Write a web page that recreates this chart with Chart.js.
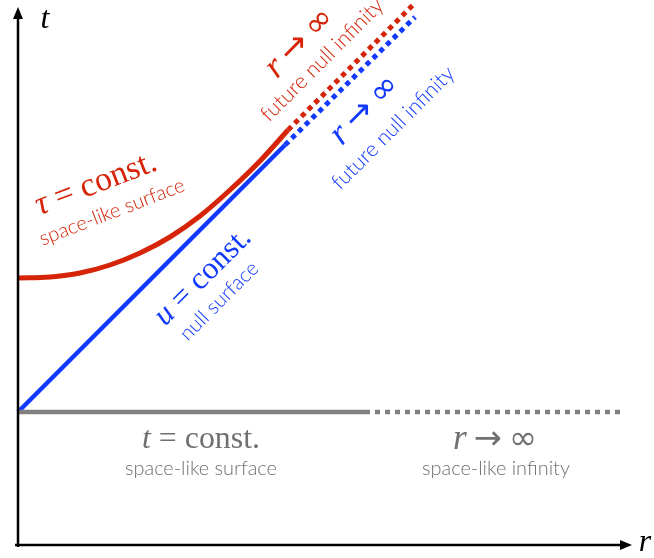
<!DOCTYPE html>
<html>
<head>
<meta charset="utf-8">
<script src="https://cdn.jsdelivr.net/npm/chart.js@4.4.1/dist/chart.umd.min.js"></script>
<style>
html,body{margin:0;padding:0;background:#fff;}
#wrap{width:654px;height:558px;}
</style>
</head>
<body>
<div id="wrap"><canvas id="c" width="654" height="558"></canvas></div>
<script>
// ---- data (r, t in diagram units) ----
const grayR = [0, 347];
const grayT = [133, 133];
const grayDotR = [347, 607];
const grayDotT = [133, 133];

const blueR = [0, 267];
const blueT = [133, 400];
const blueDotR = [267, 397];
const blueDotT = [400, 528];

const redR = [0, 32, 62, 92, 122, 152, 182, 212, 242, 270];
const redT = [267, 268, 272, 280, 292, 308, 329, 355, 384, 415];
const redDotR = [270, 397];
const redDotT = [415, 542];

const RED = 'rgb(214,36,8)';
const BLUE = 'rgb(18,58,255)';
const GRAY = 'rgb(128,128,128)';
const GRAYTXT = 'rgb(112,112,112)';

function pts(xs, ys){ return xs.map((x,i)=>({x:x, y:ys[i]})); }

const SERIF = '"Liberation Serif", "DejaVu Serif", serif';
const SANS = 'Lato, "Open Sans", sans-serif';
const ARROWF = '"DejaVu Sans", sans-serif';

// segment: [text, italic, fontOverride, sizeFactor]
const CONST = v => [[v,1],[' = ',0],['const.',0]];
const TOINF = [['r',1],['\u2009',0],['→',0,ARROWF,0.95],['\u2009',0],['∞',0,ARROWF,0.95]];

const labels = [
  {segs:CONST('τ'), font:SERIF, tw:128, x:78, y:361, a:-21, c:RED},
  {segs:[['space-like surface',0]], font:SANS, w:300, tw:154, x:94, y:333, a:-21, c:RED},
  {segs:CONST('u'), font:SERIF, tw:124, x:185, y:268, a:-45, c:BLUE},
  {segs:[['null surface',0]], font:SANS, w:300, tw:102, x:201, y:244, a:-45, c:BLUE},
  {segs:TOINF, font:SERIF, tw:84, x:282, y:502, a:-45, c:RED},
  {segs:[['future null infinity',0]], font:SANS, w:300, tw:164, x:304, y:485, a:-45, c:RED},
  {segs:TOINF, font:SERIF, tw:84, x:347, y:435, a:-45, c:BLUE},
  {segs:[['future null infinity',0]], font:SANS, w:300, tw:164, x:375, y:417, a:-45, c:BLUE},
  {segs:CONST('t'), font:SERIF, tw:118, x:183, y:105, a:0, c:GRAYTXT},
  {segs:[['space-like surface',0]], font:SANS, w:300, tw:152, x:183, y:76, a:0, c:GRAYTXT},
  {segs:TOINF, font:SERIF, tw:84, x:477, y:105, a:0, c:GRAYTXT},
  {segs:[['space-like infinity',0]], font:SANS, w:300, tw:148, x:478, y:76, a:0, c:GRAYTXT},
  {segs:[['t',1]], font:SERIF, size:32, x:27, y:525, a:0, c:'#000'},
  {segs:[['r',1]], font:SERIF, size:32, x:627, y:2, a:0, c:'#000'}
];

function fontOf(L, s, size){
  const f = s[2] || L.font;
  const sz = size * (s[3] || 1);
  return (s[1]?'italic ':'') + (s[2] ? 400 : (L.w||400)) + ' ' + sz.toFixed(2) + 'px ' + f;
}

const decor = {
  id:'decor',
  afterDatasetsDraw(chart){
    const ctx = chart.ctx;
    const xs = chart.scales.x, ys = chart.scales.y;
    const ox = xs.getPixelForValue(0), oy = ys.getPixelForValue(0);
    const topY = ys.getPixelForValue(538), rightX = xs.getPixelForValue(614);
    ctx.save();
    ctx.strokeStyle = '#000'; ctx.fillStyle = '#000'; ctx.lineWidth = 2.5;
    ctx.beginPath();
    ctx.moveTo(ox, oy+2); ctx.lineTo(ox, topY+8);
    ctx.moveTo(ox-3, oy); ctx.lineTo(rightX-8, oy);
    ctx.stroke();
    ctx.beginPath();
    ctx.moveTo(ox, topY); ctx.lineTo(ox-5, topY+12); ctx.lineTo(ox+5, topY+12); ctx.closePath(); ctx.fill();
    ctx.beginPath();
    ctx.moveTo(rightX, oy); ctx.lineTo(rightX-12, oy-5); ctx.lineTo(rightX-12, oy+5); ctx.closePath(); ctx.fill();

    labels.forEach(L=>{
      const px = xs.getPixelForValue(L.x), py = ys.getPixelForValue(L.y);
      let size = L.size || 100;
      if (L.tw){
        let w0 = 0;
        L.segs.forEach(s=>{ ctx.font = fontOf(L, s, 100); w0 += ctx.measureText(s[0]).width; });
        size = 100 * L.tw / w0;
      }
      ctx.save();
      ctx.translate(px, py);
      ctx.rotate(L.a*Math.PI/180);
      ctx.fillStyle = L.c;
      ctx.textBaseline = 'middle';
      ctx.textAlign = 'left';
      let total = 0;
      const widths = L.segs.map(s=>{ ctx.font = fontOf(L, s, size); const w = ctx.measureText(s[0]).width; total += w; return w; });
      let cx = -total/2;
      L.segs.forEach((s,i)=>{ ctx.font = fontOf(L, s, size); ctx.fillText(s[0], cx, 0); cx += widths[i]; });
      ctx.restore();
    });
    ctx.restore();
  }
};

const solid = (data, color, w)=>({data, borderColor:color, borderWidth:w, showLine:true, pointRadius:0, fill:false, tension:0, borderCapStyle:'butt'});
const dotted = (data, color, w, dash)=>({data, borderColor:color, borderWidth:w, showLine:true, pointRadius:0, fill:false, borderDash:dash, borderCapStyle:'butt'});

new Chart(document.getElementById('c'), {
  type:'scatter',
  data:{datasets:[
    solid(pts(grayR, grayT), GRAY, 4.5),
    dotted(pts(grayDotR, grayDotT), GRAY, 4.5, [5,5]),
    solid(pts(blueR, blueT), BLUE, 4.5),
    dotted(pts(blueDotR, blueDotT), BLUE, 5, [5,4.5]),
    Object.assign(solid(pts(redR, redT), RED, 5), {cubicInterpolationMode:'monotone'}),
    dotted(pts(redDotR, redDotT), RED, 5, [5,4.5])
  ]},
  options:{
    responsive:false, animation:false,
    layout:{padding:0},
    plugins:{legend:{display:false}, tooltip:{enabled:false}},
    scales:{
      x:{type:'linear', min:-18, max:636, display:false},
      y:{type:'linear', min:-13, max:545, display:false}
    }
  },
  plugins:[decor]
});
</script>
</body>
</html>
